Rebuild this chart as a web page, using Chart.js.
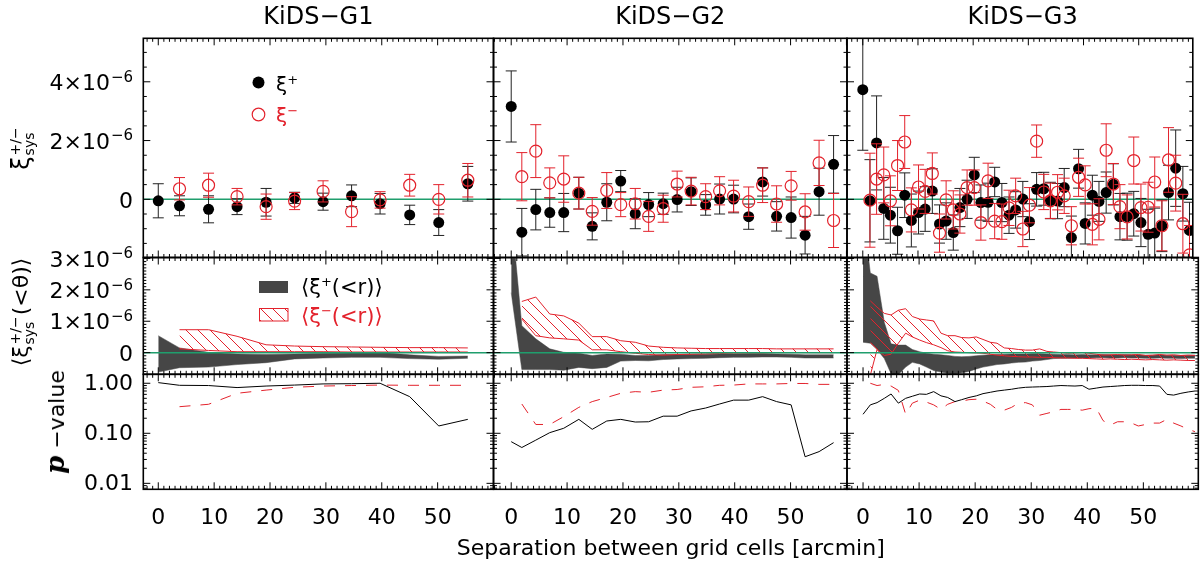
<!DOCTYPE html>
<html>
<head>
<meta charset="utf-8">
<script src="https://cdn.jsdelivr.net/npm/chart.js@4.4.1/dist/chart.umd.min.js"></script>
<style>
  body { margin: 0; background: #fff; }
  #page { position: relative; width: 1200px; height: 564px; overflow: hidden;
          font-family: "DejaVu Sans", sans-serif; font-weight: 400; color: #000; }
  #page canvas { position: absolute; left: 0; top: 0; }
  .txt { position: absolute; white-space: nowrap; line-height: 1; transform: translate(-50%, -50%); }
  .lt { transform: translate(0, -50%); }
  .rot { transform: translate(-50%, -50%) rotate(-90deg); }
  .red { color: #e3222c; }
  .txt sup { font-size: 13px; vertical-align: 0.55em; line-height: 0; }
  .stack { display: inline-block; vertical-align: middle; font-size: 14px; line-height: 14px; text-align: left; margin: 0 1px; }
  .stack span { display: block; }
  .pv { font-family: "DejaVu Serif", serif; font-style: italic; font-weight: bold; font-size: 26px; }
</style>
</head>
<body>
<div id="page"></div>
<script>
// ================== DATA (xi values in units of 1e-6) ===================
const g1X = [0.0, 3.8, 9.0, 14.1, 19.3, 24.4, 29.5, 34.6, 39.7, 45.0, 50.2, 55.4];
const g1Plus = [-0.05, -0.22, -0.34, -0.25, -0.10, 0.05, -0.08, 0.12, -0.15, -0.53, -0.79, 0.53];
const g1PlusErr = [0.58, 0.34, 0.46, 0.27, 0.47, 0.19, 0.29, 0.37, 0.35, 0.33, 0.44, 0.59];
const g1Minus = [null, 0.36, 0.48, 0.09, -0.25, -0.06, 0.27, -0.42, -0.02, 0.48, 0.00, 0.65];
const g1MinusErr = [null, 0.38, 0.41, 0.28, 0.43, 0.29, 0.36, 0.51, 0.28, 0.37, 0.50, 0.57];
const g1BandPlusHi = [0.54, 0.15, 0.01, -0.04, -0.06, -0.04, -0.02, -0.01, 0.01, -0.07, -0.12, -0.11];
const g1BandPlusLo = [-0.62, -0.48, -0.46, -0.38, -0.32, -0.20, -0.17, -0.15, -0.15, -0.19, -0.21, -0.18];
const g1BandMinusHi = [null, 0.73, 0.73, 0.52, 0.25, 0.21, 0.19, 0.18, 0.17, 0.16, 0.16, 0.15];
const g1BandMinusLo = [null, 0.12, 0.07, 0.03, 0.03, 0.03, 0.03, 0.02, 0.02, 0.02, 0.02, 0.02];
const g1PPlus = [1.03, 0.91, 0.90, 0.82, 0.88, 0.92, 0.97, 0.98, 1.00, 0.54, 0.14, 0.19];
const g1PMinus = [null, 0.34, 0.38, 0.63, 0.73, 0.83, 0.88, 0.90, 0.92, 0.91, 0.91, 0.91];

const g2X = [0.0, 1.9, 4.4, 6.9, 9.4, 12.1, 14.5, 17.1, 19.6, 22.2, 24.6, 27.2, 29.7, 32.2, 34.8, 37.3, 39.8, 42.5, 45.0, 47.5, 50.1, 52.6, 55.1, 57.7];
const g2Plus = [3.16, -1.12, -0.35, -0.45, -0.45, 0.21, -0.92, -0.10, 0.62, -0.49, -0.18, -0.15, -0.01, 0.26, -0.19, 0.01, 0.01, -0.59, 0.59, -0.58, -0.62, -1.22, 0.26, 1.19];
const g2PlusErr = [1.21, 0.81, 0.69, 0.50, 0.65, 0.54, 0.46, 0.63, 0.36, 0.51, 0.41, 0.36, 0.42, 0.47, 0.35, 0.51, 0.47, 0.43, 0.48, 0.50, 0.70, 0.64, 0.80, 0.98];
const g2Minus = [null, 0.77, 1.64, 0.56, 0.69, 0.21, -0.41, 0.30, -0.18, -0.15, -0.58, -0.32, 0.52, 0.28, 0.09, 0.29, 0.11, -0.08, 0.48, -0.16, 0.46, -0.43, 1.24, -0.72];
const g2MinusErr = [null, 0.82, 0.90, 0.51, 0.79, 0.54, 0.47, 0.61, 0.41, 0.52, 0.51, 0.46, 0.44, 0.47, 0.44, 0.48, 0.54, 0.50, 0.59, 0.62, 0.49, 0.62, 0.77, 0.92];
const g2BandPlusHi = [4.5, 0.86, 0.44, 0.12, 0.01, -0.02, -0.09, -0.04, -0.05, -0.09, -0.09, -0.06, -0.06, -0.05, -0.05, -0.04, -0.04, -0.03, -0.03, -0.04, -0.05, -0.07, -0.07, -0.07];
const g2BandPlusLo = [1.91, -0.54, -0.54, -0.54, -0.56, -0.47, -0.51, -0.47, -0.27, -0.25, -0.26, -0.22, -0.20, -0.19, -0.18, -0.16, -0.15, -0.15, -0.14, -0.14, -0.15, -0.17, -0.17, -0.17];
const g2BandMinusHi = [null, 1.63, 1.77, 1.23, 1.17, 0.94, 0.51, 0.51, 0.38, 0.33, 0.21, 0.17, 0.15, 0.14, 0.13, 0.13, 0.13, 0.13, 0.13, 0.12, 0.12, 0.12, 0.12, 0.12];
const g2BandMinusLo = [null, 1.07, 0.54, 0.47, 0.44, 0.40, 0.09, 0.09, 0.03, -0.02, -0.06, -0.08, -0.06, -0.05, -0.04, -0.03, -0.02, -0.01, -0.01, 0.00, 0.00, 0.00, 0.00, 0.00];
const g2PPlus = [0.068, 0.052, 0.073, 0.103, 0.126, 0.19, 0.12, 0.176, 0.19, 0.168, 0.17, 0.22, 0.22, 0.28, 0.32, 0.385, 0.46, 0.46, 0.54, 0.43, 0.37, 0.034, 0.043, 0.065];
const g2PMinus = [null, 0.385, 0.15, 0.15, 0.215, 0.33, 0.43, 0.52, 0.63, 0.68, 0.66, 0.73, 0.75, 0.83, 0.85, 0.91, 0.92, 0.97, 0.97, 0.97, 0.99, 0.99, 0.95, 0.95];

const g3X = [0.0, 1.3, 2.5, 3.8, 5.0, 6.3, 7.6, 8.8, 10.1, 11.3, 12.6, 13.9, 15.1, 16.4, 17.6, 18.9, 20.2, 21.4, 22.7, 23.9, 25.2, 26.5, 27.7, 29.0, 30.2, 31.5, 32.8, 34.0, 35.3, 36.5, 37.8, 39.1, 40.3, 41.6, 42.8, 44.1, 45.4, 46.6, 47.9, 49.1, 50.4, 51.7, 52.9, 54.2, 55.4, 56.7, 58.0, 59.2];
const g3Plus = [3.73, -0.05, 1.92, -0.31, -0.54, -1.07, 0.14, -0.72, -0.45, -0.33, 0.28, -0.84, -0.74, -1.13, -0.28, 0.00, 0.83, -0.11, -0.10, 0.59, -0.11, -0.54, -0.36, 0.01, -0.76, 0.34, 0.36, -0.04, -0.06, 0.40, -1.30, 1.04, -0.82, 0.14, -0.07, 0.23, 0.51, -0.59, -0.59, -0.49, -0.79, -1.19, -1.15, -0.90, 0.23, 1.06, 0.19, -1.06];
const g3PlusErr = [2.06, 1.40, 1.60, 1.05, 0.95, 0.80, 0.76, 0.90, 0.73, 0.76, 0.76, 0.65, 0.62, 0.60, 0.65, 0.65, 0.60, 0.60, 0.65, 0.50, 0.65, 0.62, 0.62, 0.60, 0.61, 0.57, 0.56, 0.62, 0.60, 0.65, 0.73, 0.66, 0.70, 0.68, 0.68, 0.70, 0.70, 0.79, 0.80, 0.76, 0.82, 0.85, 0.85, 0.88, 0.93, 1.30, 0.93, 0.96];
const g3Minus = [null, -0.03, 0.69, 0.83, -0.05, 1.15, 1.95, -0.36, 0.42, 0.27, 0.88, -1.15, -0.02, -0.36, -0.50, 0.40, 0.40, -0.79, 0.63, -0.74, -0.76, -0.29, 0.12, -1.01, -0.20, 1.98, 0.25, -0.05, 0.24, 0.12, -0.90, 0.75, 0.49, -0.85, -0.68, 1.67, 0.52, -0.25, -0.60, 1.32, -0.28, -0.27, 0.59, -0.90, 1.34, 0.55, -0.83, -1.89];
const g3MinusErr = [null, 1.60, 1.20, 0.95, 0.85, 0.85, 0.90, 0.75, 0.75, 0.75, 0.70, 0.65, 0.65, 0.65, 0.65, 0.60, 0.60, 0.60, 0.60, 0.60, 0.60, 0.60, 0.60, 0.60, 0.60, 0.55, 0.60, 0.60, 0.60, 0.60, 0.65, 0.65, 0.65, 0.70, 0.70, 0.90, 0.70, 0.75, 0.75, 0.80, 0.80, 0.85, 0.85, 0.85, 1.10, 0.95, 1.00, 1.00];
const g3BandPlusHi = [4.50, 2.54, 2.43, 0.96, 0.28, 0.24, 0.24, 0.10, 0.03, -0.02, -0.05, -0.07, -0.09, -0.12, -0.13, -0.12, -0.10, -0.08, -0.07, -0.06, -0.05, -0.04, -0.04, -0.04, -0.03, -0.03, -0.04, -0.05, -0.06, -0.06, -0.07, -0.06, -0.07, -0.07, -0.06, -0.07, -0.07, -0.06, -0.07, -0.07, -0.08, -0.08, -0.07, -0.08, -0.08, -0.09, -0.08, -0.08];
const g3BandPlusLo = [0.33, 0.30, 0.10, -0.19, -0.67, -0.70, -0.46, -0.31, -0.36, -0.46, -0.57, -0.62, -0.66, -0.67, -0.64, -0.60, -0.52, -0.46, -0.42, -0.38, -0.36, -0.33, -0.31, -0.30, -0.27, -0.25, -0.22, -0.19, -0.18, -0.18, -0.17, -0.17, -0.17, -0.16, -0.16, -0.17, -0.17, -0.16, -0.17, -0.17, -0.18, -0.18, -0.17, -0.18, -0.18, -0.19, -0.18, -0.18];
const g3BandMinusHi = [null, 1.65, 1.45, 1.25, 1.20, 1.35, 1.40, 1.15, 1.07, 1.04, 1.01, 0.62, 0.54, 0.54, 0.48, 0.47, 0.50, 0.42, 0.33, 0.30, 0.15, 0.13, 0.10, 0.08, 0.08, 0.12, 0.04, 0.02, 0.00, -0.02, -0.01, 0.00, -0.02, -0.05, -0.08, -0.07, -0.06, -0.08, -0.07, -0.06, -0.09, -0.08, -0.06, -0.08, -0.07, -0.09, -0.08, -0.09];
const g3BandMinusLo = [null, -0.72, 0.10, -0.09, -0.05, 0.30, 0.62, 0.50, 0.40, 0.32, 0.25, 0.16, 0.06, 0.02, 0.01, 0.00, -0.01, -0.02, -0.05, -0.08, -0.10, -0.12, -0.13, -0.14, -0.14, -0.15, -0.15, -0.16, -0.17, -0.17, -0.18, -0.18, -0.19, -0.20, -0.21, -0.20, -0.21, -0.22, -0.21, -0.22, -0.23, -0.22, -0.23, -0.24, -0.23, -0.24, -0.25, -0.25];
const g3PPlus = [0.24, 0.37, 0.41, 0.50, 0.61, 0.40, 0.50, 0.55, 0.61, 0.60, 0.68, 0.56, 0.52, 0.43, 0.47, 0.52, 0.56, 0.62, 0.66, 0.70, 0.73, 0.76, 0.80, 0.83, 0.84, 0.85, 0.86, 0.88, 0.90, 0.89, 0.88, 0.90, 0.76, 0.80, 0.84, 0.86, 0.88, 0.90, 0.91, 0.91, 0.90, 0.90, 0.88, 0.60, 0.58, 0.63, 0.67, 0.70];
const g3PMinus = [null, 1.00, 0.90, 0.95, 0.88, 0.72, 0.24, 0.40, 0.46, 0.42, 0.37, 0.30, 0.38, 0.43, 0.44, 0.47, 0.48, 0.44, 0.38, 0.30, 0.29, 0.33, 0.40, 0.41, 0.37, 0.23, 0.25, 0.27, 0.30, 0.30, 0.30, 0.29, 0.31, 0.32, 0.18, 0.146, 0.17, 0.17, 0.16, 0.14, 0.15, 0.16, 0.16, 0.19, 0.16, 0.14, 0.12, 0.108];

const fieldNames = ['KiDS−G1', 'KiDS−G2', 'KiDS−G3'];
const xTickLabels = [0, 10, 20, 30, 40, 50];
const yTickLabels = [[0, 2, 4], [0, 1, 2, 3], [0.01, 0.1, 1]];
const zeroLineX = [-5, 65];

// ================== LAYOUT ===================
const COLS = [[143.3, 493.5], [493.5, 847], [847, 1198.3]];
const ROWS = [[38.3, 257.5], [257.5, 374.3], [374.3, 489.3]];
const X_RANGES = [[-2.68, 60.0], [-3.17, 60.1], [-2.86, 59.8]];
const Y_RANGES = [[-1.98, 5.48], [-0.69, 3.03], [0.0076, 1.51]];

const RED = '#e3222c';
const GREEN = '#1f9e6d';
const DARK = '#464646';
const FONT_TICK = '22px "DejaVu Sans"';
const FONT_SUP = '15px "DejaVu Sans"';

const groups = [
  { x: g1X, plus: g1Plus, plusErr: g1PlusErr, minus: g1Minus, minusErr: g1MinusErr,
    bpHi: g1BandPlusHi, bpLo: g1BandPlusLo, bmHi: g1BandMinusHi, bmLo: g1BandMinusLo, pPlus: g1PPlus, pMinus: g1PMinus },
  { x: g2X, plus: g2Plus, plusErr: g2PlusErr, minus: g2Minus, minusErr: g2MinusErr,
    bpHi: g2BandPlusHi, bpLo: g2BandPlusLo, bmHi: g2BandMinusHi, bmLo: g2BandMinusLo, pPlus: g2PPlus, pMinus: g2PMinus },
  { x: g3X, plus: g3Plus, plusErr: g3PlusErr, minus: g3Minus, minusErr: g3MinusErr,
    bpHi: g3BandPlusHi, bpLo: g3BandPlusLo, bmHi: g3BandMinusHi, bmLo: g3BandMinusLo, pPlus: g3PPlus, pMinus: g3PMinus }
];

function pts(xs, ys, errs) {
  return xs.map((x, i) => ({ x, y: ys[i], e: errs ? errs[i] : 0 })).filter(p => p.y !== null);
}

function hatchPattern() {
  const s = 12;
  const tile = document.createElement('canvas');
  tile.width = s; tile.height = s;
  const t = tile.getContext('2d');
  t.strokeStyle = RED;
  t.lineWidth = 1;
  t.beginPath();
  t.moveTo(-1, -1); t.lineTo(s + 1, s + 1);
  t.moveTo(-1, s - 1); t.lineTo(1, s + 1);
  t.moveTo(s - 1, -1); t.lineTo(s + 1, 1);
  t.stroke();
  return t.createPattern(tile, 'repeat');
}
const HATCH = hatchPattern();

// ================== PLUGINS ===================
function seg(ctx, x1, y1, x2, y2) { ctx.moveTo(x1, y1); ctx.lineTo(x2, y2); }

function tickList(min, max, step, every) {
  const out = [];
  for (let k = Math.ceil(min / step - 1e-9); k * step <= max + 1e-9; k++) {
    out.push({ v: k * step, major: k % every === 0 });
  }
  return out;
}

function logTickList(min, max) {
  const out = [];
  for (let d = -3; d <= 0; d++) {
    for (let m = 1; m <= 9; m++) {
      const v = m * Math.pow(10, d);
      if (v >= min && v <= max) out.push({ v, major: m === 1 });
    }
  }
  return out;
}

function drawSci(ctx, mant, xr, yc) {
  ctx.textAlign = 'right';
  ctx.textBaseline = 'middle';
  if (mant === 0) {
    ctx.font = FONT_TICK;
    ctx.fillText('0', xr, yc + 2.5);
    return;
  }
  ctx.font = FONT_SUP;
  const sup = '−6';
  const w = ctx.measureText(sup).width;
  ctx.fillText(sup, xr, yc - 4);
  ctx.font = FONT_TICK;
  ctx.fillText(mant + '×10', xr - w - 1, yc + 2.5);
}

const panelAxes = {
  id: 'panelAxes',
  afterDraw(chart, args, opts) {
    const { ctx, chartArea: a, scales: { x, y } } = chart;
    ctx.save();
    ctx.strokeStyle = '#000';
    ctx.lineWidth = 1;
    ctx.beginPath();
    tickList(x.min, x.max, 1, 10).forEach(t => {
      if (t.v < 0 && t.major) return;
      const px = x.getPixelForValue(t.v);
      const len = t.major ? 7 : 3.5;
      seg(ctx, px, a.top, px, a.top + len);
      seg(ctx, px, a.bottom, px, a.bottom - len);
    });
    let yt;
    if (opts.row === 0) yt = tickList(y.min, y.max, 0.5, 4);
    else if (opts.row === 1) yt = tickList(y.min, y.max, 0.1, 10);
    else yt = logTickList(y.min, y.max);
    yt.forEach(t => {
      const py = y.getPixelForValue(t.v);
      const len = t.major ? 7 : (opts.row === 1 ? 3 : 3.5);
      seg(ctx, a.left, py, a.left + len, py);
      seg(ctx, a.right, py, a.right - len, py);
    });
    ctx.stroke();
    ctx.lineWidth = 1.6;
    ctx.strokeRect(a.left, a.top, a.right - a.left, a.bottom - a.top);

    ctx.fillStyle = '#000';
    if (opts.col === 0) {
      yTickLabels[opts.row].forEach(v => {
        const py = y.getPixelForValue(v);
        if (opts.row === 2) {
          ctx.font = FONT_TICK;
          ctx.textAlign = 'right';
          ctx.textBaseline = 'middle';
          ctx.fillText(v.toFixed(2), 133, py + 1);
        } else {
          drawSci(ctx, v, 133, py);
        }
      });
    }
    if (opts.row === 2) {
      ctx.font = FONT_TICK;
      ctx.textAlign = 'center';
      ctx.textBaseline = 'middle';
      xTickLabels.forEach(v => ctx.fillText(String(v), x.getPixelForValue(v), 518));
    }
    ctx.restore();
  }
};

const errorBars = {
  id: 'errorBars',
  beforeDatasetDraw(chart, args) {
    const ds = chart.data.datasets[args.index];
    if (!ds.errColor) return;
    const { ctx, chartArea: a, scales: { x, y } } = chart;
    ctx.save();
    ctx.beginPath();
    ctx.rect(a.left, a.top, a.right - a.left, a.bottom - a.top);
    ctx.clip();
    ctx.strokeStyle = ds.errColor;
    ctx.lineWidth = 1;
    ctx.beginPath();
    ds.data.forEach(p => {
      const px = x.getPixelForValue(p.x);
      const hi = y.getPixelForValue(p.y + p.e);
      const lo = y.getPixelForValue(p.y - p.e);
      seg(ctx, px, hi, px, lo);
      seg(ctx, px - 5.5, hi, px + 5.5, hi);
      seg(ctx, px - 5.5, lo, px + 5.5, lo);
    });
    ctx.stroke();
    ctx.restore();
  }
};

const panelLegend = {
  id: 'panelLegend',
  afterDatasetsDraw(chart, args, opts) {
    const ctx = chart.ctx;
    ctx.save();
    if (opts.kind === 'points') {
      ctx.fillStyle = '#000';
      ctx.beginPath(); ctx.arc(258.5, 82.5, 6, 0, Math.PI * 2); ctx.fill();
      ctx.strokeStyle = RED; ctx.lineWidth = 1.2;
      ctx.beginPath(); ctx.arc(258.5, 114.5, 6.3, 0, Math.PI * 2); ctx.stroke();
    } else if (opts.kind === 'bands') {
      ctx.fillStyle = DARK;
      ctx.fillRect(259, 281, 29, 12);
      ctx.fillStyle = HATCH;
      ctx.fillRect(259, 308.5, 29, 12.5);
      ctx.strokeStyle = RED; ctx.lineWidth = 1;
      ctx.strokeRect(259.5, 308.5, 28.5, 12.5);
    }
    ctx.restore();
  }
};

// ================== PANELS ===================
function zeroLine(order) {
  return { data: zeroLineX.map(x => ({ x, y: 0 })), borderColor: GREEN, borderWidth: 1.5,
           pointRadius: 0, order };
}

function panelDatasets(row, g) {
  if (row === 0) {
    return [
      zeroLine(3),
      { data: pts(g.x, g.plus, g.plusErr), showLine: false, pointRadius: 5.5, pointBackgroundColor: '#000',
        pointBorderColor: '#000', pointBorderWidth: 0, errColor: '#222', order: 2 },
      { data: pts(g.x, g.minus, g.minusErr), showLine: false, pointRadius: 6, pointBackgroundColor: 'rgba(0,0,0,0)',
        pointBorderColor: RED, pointBorderWidth: 1.2, errColor: RED, order: 1 }
    ];
  }
  if (row === 1) {
    return [
      { data: pts(g.x, g.bpHi), fill: '+1', backgroundColor: DARK, borderColor: DARK, borderWidth: 0.5, pointRadius: 0, order: 3 },
      { data: pts(g.x, g.bpLo), borderColor: DARK, borderWidth: 0.5, pointRadius: 0, order: 3 },
      { data: pts(g.x, g.bmHi), fill: '+1', backgroundColor: HATCH, borderColor: RED, borderWidth: 1, pointRadius: 0, order: 2 },
      { data: pts(g.x, g.bmLo), borderColor: RED, borderWidth: 1, pointRadius: 0, order: 2 },
      zeroLine(1)
    ];
  }
  return [
    { data: pts(g.x, g.pPlus), borderColor: '#000', borderWidth: 1, pointRadius: 0 },
    { data: pts(g.x, g.pMinus), borderColor: RED, borderWidth: 1, borderDash: [11, 10], pointRadius: 0 }
  ];
}

const page = document.getElementById('page');

function buildPanel(row, col) {
  const canvas = document.createElement('canvas');
  canvas.width = 1200; canvas.height = 564;
  canvas.style.width = '1200px'; canvas.style.height = '564px';
  page.appendChild(canvas);
  let legendKind = null;
  if (col === 0 && row === 0) legendKind = 'points';
  if (col === 0 && row === 1) legendKind = 'bands';
  new Chart(canvas.getContext('2d'), {
    type: 'line',
    data: { datasets: panelDatasets(row, groups[col]) },
    options: {
      responsive: false,
      animation: false,
      events: [],
      layout: { padding: { left: COLS[col][0], right: 1200 - COLS[col][1], top: ROWS[row][0], bottom: 564 - ROWS[row][1] } },
      scales: {
        x: { type: 'linear', min: X_RANGES[col][0], max: X_RANGES[col][1], display: false },
        y: { type: row === 2 ? 'logarithmic' : 'linear', min: Y_RANGES[row][0], max: Y_RANGES[row][1], display: false }
      },
      plugins: {
        legend: { display: false },
        tooltip: { enabled: false },
        panelAxes: { row, col },
        panelLegend: { kind: legendKind }
      }
    },
    plugins: [errorBars, panelAxes, panelLegend]
  });
}

for (let r = 0; r < 3; r++) {
  for (let c = 0; c < 3; c++) buildPanel(r, c);
}

// ================== TEXT ===================
function addText(html, x, y, cls, size) {
  const d = document.createElement('div');
  d.className = 'txt ' + (cls || '');
  d.style.left = x + 'px';
  d.style.top = y + 'px';
  if (size) d.style.fontSize = size + 'px';
  d.innerHTML = html;
  page.appendChild(d);
}

fieldNames.forEach((name, i) => addText(name, (COLS[i][0] + COLS[i][1]) / 2, 16, '', 24));
addText('Separation between grid cells [arcmin]', 670.8, 548, '', 22);

addText('ξ<span class="stack"><span>+/−</span><span>sys</span></span>', 22, 148, 'rot', 24);
addText('⟨ξ<span class="stack"><span>+/−</span><span>sys</span></span>(&lt;θ)⟩', 22, 312, 'rot', 22);
addText('<span class="pv">p</span> −value', 55, 422, 'rot', 22);

addText('ξ<sup>+</sup>', 276, 84, 'lt', 20);
addText('ξ<sup>−</sup>', 276, 115, 'lt red', 20);
addText('⟨ξ<sup>+</sup>(&lt;r)⟩', 301, 287, 'lt', 21);
addText('⟨ξ<sup>−</sup>(&lt;r)⟩', 301, 316, 'lt red', 21);
</script>
</body>
</html>
